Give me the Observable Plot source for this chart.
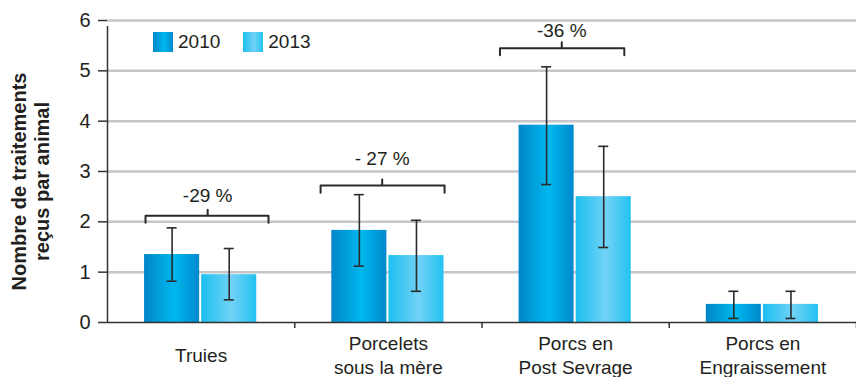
<!DOCTYPE html>
<html>
<head>
<meta charset="utf-8">
<script src="https://cdn.jsdelivr.net/npm/d3@7"></script>
<script src="https://cdn.jsdelivr.net/npm/@observablehq/plot@0.6"></script>
<style>
  html, body { margin: 0; padding: 0; background: #fff; }
  #wrap { position: relative; width: 856px; height: 377px; font-family: "Liberation Sans", Arial, sans-serif; }
  .legend { position: absolute; top: 31px; left: 153px; display: flex; align-items: center; font-size: 19px; color: #231f20; }
  .legend .item { display: flex; align-items: center; margin-right: 23px; }
  .legend .sw { width: 20px; height: 20px; margin-right: 5px; }
  .sw2010 { background: linear-gradient(to right, #0086c8, #00b8ee 55%, #0088cc); }
  .sw2013 { background: linear-gradient(to right, #1bbfee, #72d2f7 55%, #22c2f0); }
</style>
</head>
<body>
<div id="wrap"></div>
<script>
// ---- data ----
const categories = ["Truies", "Porcelets\nsous la mère", "Porcs en\nPost Sevrage", "Porcs en\nEngraissement"];
const years = ["2010", "2013"];
const values2010 = [1.35, 1.83, 3.92, 0.36];
const values2013 = [0.95, 1.33, 2.50, 0.36];
const errLow2010 = [0.82, 1.12, 2.74, 0.08];
const errHigh2010 = [1.88, 2.54, 5.08, 0.62];
const errLow2013 = [0.45, 0.62, 1.49, 0.08];
const errHigh2013 = [1.47, 2.03, 3.50, 0.62];
const changeLabels = ["-29 %", "- 27 %", "-36 %"];
const bracketLevels = [2.12, 2.72, 5.45];
const labelLevels = [2.52, 3.26, 5.80];
const yTicks = [0, 1, 2, 3, 4, 5, 6];
const yTitle = "Nombre de traitements\nreçus par animal";

// ---- layout (fractions of a category band) ----
const barSpan = {"2010": [0.198, 0.492], "2013": [0.503, 0.797]};
const bracketSpan = [[0.203, 0.535, 0.86], [0.138, 0.467, 0.80], [0.096, 0.426, 0.76]];
const font = "Liberation Sans, Arial, sans-serif";
const ink = "#231f20";

const series = {"2010": [values2010, errLow2010, errHigh2010], "2013": [values2013, errLow2013, errHigh2013]};
const bars = categories.flatMap((c, i) => years.map(yr => {
  const [v, lo, hi] = series[yr];
  const [a, b] = barSpan[yr];
  return {cat: c, year: yr, x1: i + a, x2: i + b, cx: i + (a + b) / 2, value: v[i], lo: lo[i], hi: hi[i]};
}));

const brackets = changeLabels.flatMap((lab, i) => {
  const [a, m, b] = bracketSpan[i];
  const y = bracketLevels[i], d = 0.14, u = 0.12;
  return [[a, y - d], [a, y], [m, y], [m, y + u], [m, y], [b, y], [b, y - d]]
    .map(([x, yy]) => ({id: i, x: i + x, y: yy}));
});
const bracketLabels = changeLabels.map((lab, i) => ({x: i + bracketSpan[i][1], y: labelLevels[i], label: lab}));

const defs = () => {
  const d = d3.create("svg:defs");
  const mk = (id, stops) => {
    const g = d.append("linearGradient").attr("id", id).attr("x1", "0").attr("x2", "1").attr("y1", "0").attr("y2", "0");
    stops.forEach(([o, c]) => g.append("stop").attr("offset", o).attr("stop-color", c));
  };
  mk("g2010", [["0%", "#0086c8"], ["55%", "#00b8ee"], ["100%", "#0088cc"]]);
  mk("g2013", [["0%", "#1bbfee"], ["55%", "#72d2f7"], ["100%", "#22c2f0"]]);
  return d.node();
};

const chart = Plot.plot({
  width: 856,
  height: 377,
  marginLeft: 107,
  marginRight: 0,
  marginTop: 20,
  marginBottom: 55,
  style: `font-family: ${font}; font-size: 19px; color: ${ink}; background: transparent;`,
  x: {domain: [0, categories.length], axis: null},
  y: {domain: [0, 6], axis: null},
  marks: [
    defs,
    Plot.gridY(yTicks.slice(1), {stroke: "#c6c6ca", strokeOpacity: 1, strokeWidth: 2.5}),
    Plot.rect(bars, {x1: "x1", x2: "x2", y1: 0, y2: "value", fill: d => `url(#g${d.year})`}),
    Plot.ruleX(bars, {x: "cx", y1: "lo", y2: "hi", stroke: "#2a2a2a", strokeWidth: 1.6}),
    Plot.ruleY(bars, {y: "lo", x1: "cx", x2: "cx", insetLeft: -5, insetRight: -5, stroke: "#2a2a2a", strokeWidth: 1.6}),
    Plot.ruleY(bars, {y: "hi", x1: "cx", x2: "cx", insetLeft: -5, insetRight: -5, stroke: "#2a2a2a", strokeWidth: 1.6}),
    Plot.line(brackets, {x: "x", y: "y", z: "id", stroke: "#2a2a2a", strokeWidth: 2, strokeLinejoin: "round", curve: "linear"}),
    Plot.text(bracketLabels, {x: "x", y: "y", text: "label", fill: ink, fontSize: 19}),
    Plot.ruleY([0], {stroke: "#333", strokeWidth: 1.5}),
    Plot.ruleX([0], {y1: 0, y2: 6, insetBottom: -6, stroke: "#333", strokeWidth: 1.5}),
    Plot.axisX(d3.range(1, categories.length + 1), {tickSize: 6, tickFormat: () => "", stroke: "#333", strokeWidth: 1.5}),
    Plot.axisY(yTicks, {tickSize: 9, tickPadding: 8, tickFormat: d => String(d), stroke: "#333", strokeWidth: 1.5, fontSize: 20, fill: ink}),
    Plot.text(categories, {x: (d, i) => i + 0.5, frameAnchor: "bottom", dy: 32, lineAnchor: "middle", lineHeight: 1.22, text: d => d, fill: ink, fontSize: 19}),
    Plot.text([yTitle], {frameAnchor: "left", textAnchor: "middle", rotate: -90, dx: -77, dy: 10, lineAnchor: "middle", lineHeight: 1.15, text: d => d, fill: ink, fontSize: 20, fontWeight: "bold"})
  ]
});

const wrap = document.getElementById("wrap");
wrap.appendChild(chart);
const legend = document.createElement("div");
legend.className = "legend";
legend.innerHTML = years.map(y => `<div class="item"><div class="sw sw${y}"></div><span>${y}</span></div>`).join("");
wrap.appendChild(legend);
chart.style.position = "absolute";
chart.style.left = "0";
chart.style.top = "0";
</script>
</body>
</html>
